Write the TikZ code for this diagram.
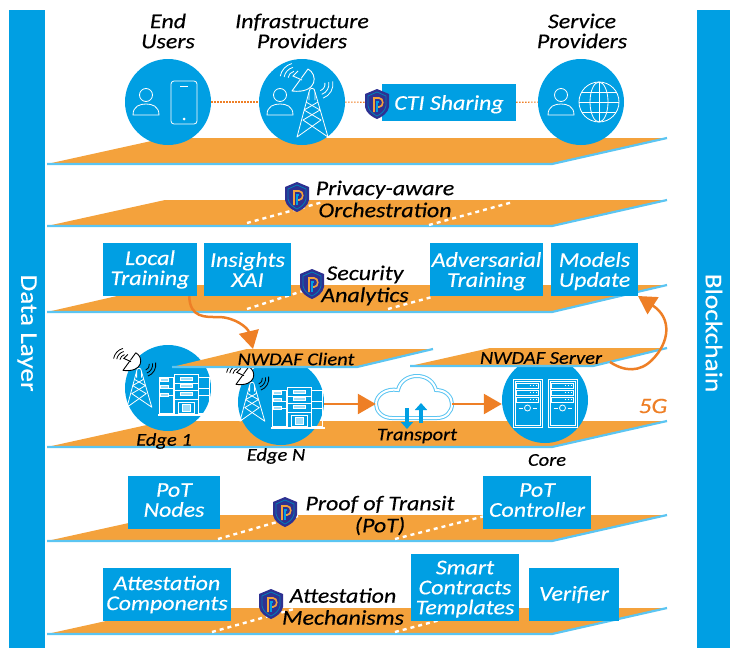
\documentclass[tikz,border=0pt]{standalone}
\usepackage{fontspec}
\setmainfont{Carlito}[FakeStretch=1.14,FakeBold=0.3]
\usetikzlibrary{calc}
\usetikzlibrary{arrows.meta}
\definecolor{hubblue}{HTML}{009FE3}
\definecolor{edgeblue}{HTML}{5BC5F2}
\definecolor{planeorange}{HTML}{F4A23C}
\definecolor{arroworange}{HTML}{EE7F26}
\definecolor{shieldnavy}{HTML}{2E3192}
\tikzset{
    hubcircle/.style={circle, fill=hubblue, minimum size=86pt, inner sep=0pt},
    bluebox/.style={fill=hubblue, text=white, inner sep=0pt, align=center, font=\fontsize{21}{20}\selectfont\itshape},
    toplabel/.style={inner sep=0pt, align=center, font=\fontsize{21}{20}\selectfont\itshape},
    planelabel/.style={inner sep=0pt, align=center, font=\fontsize{21}{22}\selectfont\itshape},
    smalllabel/.style={inner sep=0pt, font=\fontsize{18}{20}\selectfont\itshape},
    sidebar/.style={fill=hubblue},
    sidetext/.style={text=white, rotate=-90, inner sep=0pt, font=\fontsize{24}{26}\selectfont},
    planedash/.style={white, line width=2.4pt, dash pattern=on 4pt off 4pt},
    flowarrow/.style={arroworange, line width=2.5pt, -{Triangle[length=18pt,width=20pt]}},
    loose/.style={arroworange, line width=1.1pt, dash pattern=on 1.5pt off 1.5pt},
    shieldicon/.pic={
        \fill[shieldnavy] (0,-15) -- (12,-10) -- (12,3) .. controls (11,9) and (5,13) .. (0,15) .. controls (-5,13) and (-11,9) .. (-12,3) -- (-12,-10) -- cycle;
        \draw[hubblue!80!black, line width=.8pt] (0,-12) -- (9,-8) -- (9,2) .. controls (8,7) and (4,10) .. (0,12) .. controls (-4,10) and (-8,7) .. (-9,2) -- (-9,-8) -- cycle;
        \draw[planeorange, line width=1.6pt] (-3,8) -- (-3,-6) -- (2,-6) .. controls (7,-6) and (7,3) .. (2,3) -- (-1,3);
        \draw[hubblue, line width=1.4pt] (0,8) -- (0,-2) -- (2,-2);
    },
    personicon/.pic={
        \draw[white, line width=.8pt] (0,-7) circle (6.5);
        \draw[white, line width=.8pt] (-13,13) .. controls (-13,4) and (-6,2) .. (0,2) .. controls (6,2) and (13,4) .. (13,13) -- cycle;
    },
    towericon/.pic={
        \draw[white, line width=.8pt, line join=round] (-3,12) -- (-3,4) .. controls (-3,-1) and (3,-1) .. (3,4) -- (3,12);
        \draw[white, line width=.8pt, line join=round] (-3,4) -- (-15,49) -- (9,32) -- (-8,22) -- (6,14);
        \draw[white, line width=.8pt, line join=round] (3,4) -- (16,49) -- (-9,32) -- (8,22) -- (-6,14);
    },
    dishshape/.pic={
        \filldraw[pic actions, line width=.9pt, line join=round] (-4,-19) .. controls (6,-14) and (6,6) .. (-20,3) -- cycle;
        \draw[pic actions, line width=.9pt] (-10,-8) -- (-19,-12) -- (-14,-17);
        \foreach \r in {8,12,16} {
            \draw[pic actions, fill=none, line width=.8pt] ($(-16,-9)+(190:\r)$) arc[start angle=190, end angle=255, radius=\r];
            \draw[pic actions, fill=none, line width=.8pt] ($(6,-4)+(-10:\r-1)$) arc[start angle=-10, end angle=70, radius=\r-1];
        }
    },
    buildingicon/.pic={
        \foreach \x/\w/\h in {-20/14/18, 18/11/18} {
            \draw[white, line width=.8pt] (\x-\w/2,-\h) rectangle (\x+\w/2,\h);
            \draw[white, line width=.7pt] (\x-\w/2,-\h+11) -- (\x+\w/2,-\h+11);
            \draw[white, line width=.7pt] (\x-\w/2,-\h+18) -- (\x+\w/2,-\h+18);
        }
        \draw[white, line width=.8pt, fill=hubblue] (-12,-21) rectangle (12,20);
        \foreach \y in {-12,-5} {
            \draw[white, line width=.7pt] (-12,\y) -- (12,\y);
        }
        \foreach \y in {-18,-11,-3} {
            \draw[white, fill=edgeblue!60, line width=.5pt] (-6,\y) rectangle (6,\y+3);
            \draw[white, fill=edgeblue!60, line width=.5pt] (-26,\y+1) rectangle (-18,\y+4);
        }
        \draw[white, line width=.7pt] (-12,4) -- (12,4);
        \draw[white, line width=.8pt] (-8,7) rectangle (8,18);
        \draw[white, line width=.8pt, fill=edgeblue!60] (-4,9) rectangle (4,16);
        \draw[white, line width=1.2pt] (-28,20) -- (26,20);
    },
    servericon/.pic={
        \draw[white, line width=.8pt] (-14.5,-24) rectangle (14.5,24);
        \draw[white, line width=.4pt] (-12.5,-22) rectangle (12.5,22);
        \foreach \y in {-20,-13,-6} {
            \draw[white, line width=.7pt] (-11,\y) rectangle (11,\y+5);
            \foreach \x in {3,6,9} {
                \fill[white] (\x,\y+2.5) circle (.7);
            }
        }
        \draw[white, line width=.8pt] (0,5) circle (3);
        \draw[white, line width=.8pt] (-9,5) -- (-5,5);
        \draw[white, line width=.8pt] (5,5) -- (9,5);
    },
}
\def\planelayer#1#2#3#4#5#6{
    \fill[planeorange] (#1,#6) -- (#2,#5) -- (#4,#5) -- (#3,#6) -- cycle;
    \draw[edgeblue, line width=2.2pt] (#1,#6) -- (#3,#6) -- (#4,#5);
}
\begin{document}
\begin{tikzpicture}[x=1pt, y=-1pt]
    \useasboundingbox (0,0) rectangle (730,648);

    \fill[sidebar] (9,10) rectangle (45,648);
    \fill[sidebar] (697,10) rectangle (730,648);
    \node[sidetext] (datalayer) at (27,333) {Data Layer};
    \node[sidetext] (blockchain) at (714,333) {Blockchain};

    \planelayer{47}{165}{552}{667}{138}{164}
    \planelayer{47}{165}{552}{667}{200}{226}
    \planelayer{47}{165}{552}{667}{285}{312}
    \planelayer{47}{165}{552}{667}{421}{447}
    \planelayer{47}{165}{552}{667}{515}{541}
    \planelayer{47}{165}{552}{667}{608}{634}

    \draw[planedash] (247,223) -- (323,202);
    \draw[planedash] (429,225) -- (513,202);
    \draw[planedash] (247,309) -- (312,288);
    \draw[planedash] (388,309) -- (432,297);
    \draw[planedash] (218,539) -- (298,516);
    \draw[planedash] (395,539) -- (485,516);
    \draw[planedash] (212,632) -- (294,609);
    \draw[planedash] (395,632) -- (440,620);

    \node[toplabel] (endlabel) at (168,31) {End\\Users};
    \node[toplabel] (infralabel) at (302,31) {Infrastructure\\Providers};
    \node[toplabel] (servicelabel) at (582,31) {Service\\Providers};

    \node[hubcircle] (endusers) at (168,102) {};
    \node[hubcircle] (infra) at (302,102) {};
    \node[hubcircle] (service) at (581,102) {};
    \node[bluebox, minimum width=134pt, minimum height=37pt, text depth=0pt] (ctisharing) at (449,102.5) {CTI Sharing};
    \draw[loose] (endusers) -- (infra);
    \draw[loose] (infra) -- (ctisharing);
    \draw[loose] (ctisharing) -- (service);
    \pic at (377,104) {shieldicon};

    \pic at (146,102) {personicon};
    \draw[white, line width=.8pt, rounded corners=3pt] (171,81) rectangle (197,124);
    \draw[white, line width=.8pt] (180,86) -- (188,86);
    \fill[white] (184,119) circle (1.5);

    \pic at (280,102) {personicon};
    \pic at (312,88) {towericon};
    \pic[draw=white, fill=hubblue] at (312,88) {dishshape};

    \pic at (561,102) {personicon};
    \draw[white, line width=.8pt] (599,102) circle (20);
    \draw[white, line width=.8pt] (599,102) ellipse (9 and 20);
    \draw[white, line width=.8pt] (599,82) -- (599,122);
    \draw[white, line width=.8pt] (579,102) -- (619,102);
    \draw[white, line width=.8pt] (582,92) -- (616,92);
    \draw[white, line width=.8pt] (582,112) -- (616,112);

    \pic at (297,197) {shieldicon};
    \node[planelabel] (privacylabel) at (385,199) {Privacy-aware\\Orchestration};

    \node[bluebox, minimum width=94pt, minimum height=53pt] (localtraining) at (150,269.5) {Local\\Training};
    \node[bluebox, minimum width=87pt, minimum height=53pt, text depth=0pt] (insights) at (247.5,269.5) {Insights\\XAI};
    \node[bluebox, minimum width=113pt, minimum height=53pt, text depth=0pt] (adversarial) at (486.5,269.5) {Adversarial\\Training};
    \node[bluebox, minimum width=87pt, minimum height=53pt, text depth=0pt] (modelsupdate) at (594.5,269.5) {Models\\Update};
    \pic at (312,284) {shieldicon};
    \node[planelabel] (securitylabel) at (365,285.5) {Security\\Analytics};

    \node[hubcircle] (edgeone) at (168,388) {};
    \node[hubcircle] (edgen) at (281,402) {};
    \node[hubcircle] (core) at (545,400) {};

    \pic[scale=.8] at (139,368) {towericon};
    \pic[scale=.8, draw=black, fill=white] at (139,368) {dishshape};
    \pic[scale=.8] at (252,382) {towericon};
    \pic[scale=.8, draw=black, fill=white] at (252,382) {dishshape};

    \planelayer{172}{247}{357}{433}{349}{367}
    \planelayer{410}{490}{593}{667}{348}{366}

    \pic at (186,395) {buildingicon};
    \pic at (299,408) {buildingicon};
    \pic at (527.5,403) {servericon};
    \pic at (562.5,403) {servericon};

    \draw[draw=edgeblue, double=white, double distance=2pt, line width=1pt] (392,418) .. controls (382,418) and (376,411) .. (376,404) .. controls (376,395) and (386,388) .. (398,390) .. controls (400,381) and (408,376) .. (417,376) .. controls (427,376) and (434,382) .. (436,390) .. controls (446,390) and (452,397) .. (452,404) .. controls (452,412) and (446,418) .. (437,418) -- cycle;
    \node[minimum width=76pt, minimum height=42pt, inner sep=0pt] (cloud) at (414,404) {};
    \draw[hubblue, line width=4pt, -{Triangle[length=7pt,width=12pt]}] (407,408) -- (407,429);
    \draw[hubblue, line width=4pt, -{Triangle[length=7pt,width=12pt]}] (421,423) -- (421,403);

    \draw[flowarrow] (edgen.east |- cloud.west) -- (cloud.west);
    \draw[flowarrow] (cloud.east) -- (core.west |- cloud.east);

    \node[smalllabel] (clientlabel) at (296,359) {NWDAF Client};
    \node[smalllabel] (serverlabel) at (541,358) {NWDAF Server};
    \node[smalllabel] (edgeonelabel) at (164,441) {Edge 1};
    \node[smalllabel] (edgenlabel) at (276,456) {Edge N};
    \node[smalllabel] (transportlabel) at (417,436) {Transport};
    \node[smalllabel] (corelabel) at (547,460) {Core};
    \node[smalllabel, text=arroworange, font=\fontsize{22}{24}\selectfont\itshape] (fivelabel) at (653,406) {5G};

    \coordinate (clienttip) at (253,349);
    \coordinate (serverstart) at (610,362);
    \coordinate (modelstip) at (638,296);
    \draw[flowarrow] ([xshift=-8pt]localtraining.south east) .. controls (190,318) and (205,317) .. (218,317) .. controls (235,317) and (248,328) .. (clienttip);
    \draw[flowarrow] (serverstart) .. controls (625,372) and (640,372) .. (652,360) .. controls (670,342) and (672,318) .. (modelstip);

    \node[bluebox, minimum width=92pt, minimum height=53pt, text depth=5pt] (potnodes) at (174,502.5) {PoT\\Nodes};
    \node[bluebox, minimum width=108pt, minimum height=53pt, text depth=5pt] (potcontroller) at (537,502.5) {PoT\\Controller};
    \pic at (285,512) {shieldicon};
    \node[planelabel] (potlabel) at (380,515.5) {Proof of Transit\\(PoT)};

    \node[bluebox, minimum width=128pt, minimum height=53pt] (attestcomp) at (167,594.5) {Attestation\\Components};
    \node[bluebox, minimum width=108pt, minimum height=67pt, text depth=0pt] (smartcontracts) at (465,587.5) {Smart\\Contracts\\Templates};
    \node[bluebox, minimum width=90pt, minimum height=53pt] (verifier) at (574,594.5) {Verifier};
    \pic at (271,604) {shieldicon};
    \node[planelabel] (attestlabel) at (343,606.5) {Attestation\\Mechanisms};
\end{tikzpicture}
\end{document}
